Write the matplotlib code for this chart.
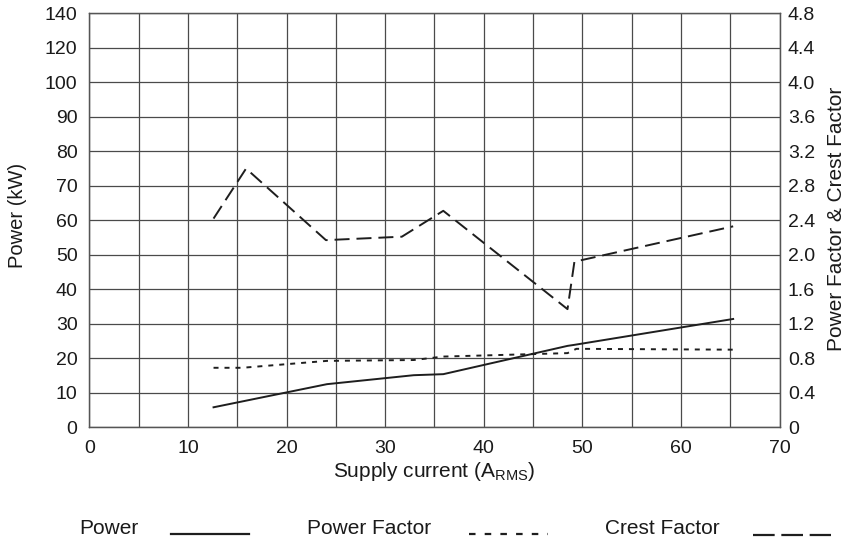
import matplotlib
matplotlib.use("Agg")
import matplotlib.pyplot as plt
from matplotlib.lines import Line2D

plt.rcParams['font.family'] = ['Liberation Sans', 'DejaVu Sans']
plt.rcParams['lines.scale_dashes'] = False
plt.rcParams['mathtext.fontset'] = 'custom'
plt.rcParams['mathtext.rm'] = 'Liberation Sans'

# Data
power_current = [12.6, 24.1, 32.9, 35.9, 48.5, 49.2, 65.3]
power_kw = [5.8, 12.5, 15.1, 15.4, 23.6, 23.9, 31.4]

pf_current = [12.6, 15.5, 24.1, 32.9, 35.9, 48.5, 49.4, 65.3]
power_factor = [0.69, 0.69, 0.77, 0.78, 0.82, 0.86, 0.91, 0.90]

cf_current = [12.6, 15.9, 24.0, 31.7, 35.9, 48.5, 49.2, 65.3]
crest_factor = [2.42, 3.0, 2.17, 2.21, 2.51, 1.37, 1.92, 2.33]

x_grid = [0, 5, 10, 15, 20, 25, 30, 35, 40, 45, 50, 55, 60, 65, 70]
x_labels = ['0', '', '10', '', '20', '', '30', '', '40', '', '50', '', '60', '', '70']
left_tick_pos = [0, 10, 20, 30, 40, 50, 60, 70, 80, 90, 100, 110, 120]
left_tick_labels = ['0', '10', '20', '30', '40', '50', '60', '70', '80', '90', '100', '120', '140']
right_ticks = [0, 0.4, 0.8, 1.2, 1.6, 2.0, 2.4, 2.8, 3.2, 3.6, 4.0, 4.4, 4.8]
right_tick_labels = ['0', '0.4', '0.8', '1.2', '1.6', '2.0', '2.4', '2.8', '3.2', '3.6', '4.0', '4.4', '4.8']

FS = 14
LFS = 15
LC = '#1e1e1e'
TC = '#1a1a1a'

fig = plt.figure(figsize=(8.52, 5.40), dpi=100)
ax = fig.add_axes([89.3 / 852, 1 - 427.3 / 540, 690.2 / 852, 414 / 540])
ax2 = ax.twinx()

ax.set_xlim(0, 70)
ax.set_ylim(0, 120)
ax2.set_ylim(0, 4.8)

ax.set_xticks(x_grid)
ax.set_xticklabels(x_labels)
ax.set_yticks(left_tick_pos)
ax.set_yticklabels(left_tick_labels)
ax.grid(True, color='#4a4a4a', linewidth=0.9)
ax.set_axisbelow(True)
ax2.set_yticks(right_ticks)
ax2.set_yticklabels(right_tick_labels)

for a in (ax, ax2):
    for s in a.spines.values():
        s.set_color('#555555')
        s.set_linewidth(0.9)
    a.tick_params(length=0, labelsize=FS, colors=TC)
ax.tick_params(axis='x', pad=9.5)
ax.tick_params(axis='y', pad=8.5)
ax2.tick_params(axis='y', pad=6)

ax.plot(power_current, power_kw, color=LC, linewidth=1.4)
ax2.plot(pf_current, power_factor, color=LC, linewidth=1.4, dashes=(3.6, 4.3))
ax2.plot(cf_current, crest_factor, color=LC, linewidth=1.4, dashes=(10.8, 5.0))

ax.set_xlabel('Supply current (A$_\\mathregular{RMS}$)', fontsize=LFS, color=TC, va='baseline')
ax.xaxis.set_label_coords(0.5, -(477 - 427.3) / 414)
ax.set_ylabel('Power (kW)', fontsize=14.5, color=TC, va='center', ha='center')
ax.yaxis.set_label_coords((18 - 89.3) / 690.2, (427.3 - 215) / 414)
ax2.set_ylabel('Power Factor & Crest Factor', fontsize=LFS, color=TC, rotation=90, va='center', ha='center')
ax2.yaxis.set_label_coords((836 - 89.3) / 690.2, (427.3 - 219) / 414)

# legend (manual)
def fx(px):
    return px / 852
def fy(py):
    return 1 - py / 540

base = 534
fig.text(fx(79), fy(base), 'Power', fontsize=LFS, va='baseline', ha='left', color=TC)
fig.text(fx(307), fy(base), 'Power Factor', fontsize=LFS, va='baseline', ha='left', color=TC)
fig.text(fx(605), fy(base), 'Crest Factor', fontsize=LFS, va='baseline', ha='left', color=TC)
fig.add_artist(Line2D([fx(171), fx(249)], [fy(534), fy(534)], color=LC, linewidth=1.6, transform=fig.transFigure))
fig.add_artist(Line2D([fx(469), fx(548)], [fy(534), fy(534)], color=LC, linewidth=1.6, dashes=(4.7, 6.6), transform=fig.transFigure))
fig.add_artist(Line2D([fx(753), fx(831)], [fy(535), fy(535)], color=LC, linewidth=1.6, dashes=(15.6, 4.8), transform=fig.transFigure))

fig.savefig('out.png', dpi=100)
